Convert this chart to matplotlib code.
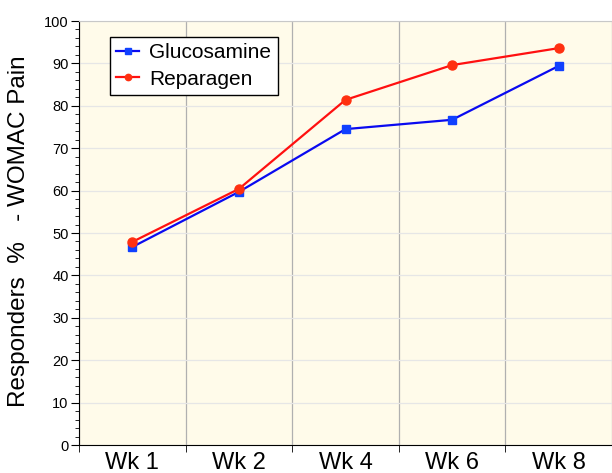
import matplotlib
matplotlib.use("Agg")
import matplotlib.pyplot as plt
from matplotlib.ticker import MultipleLocator, FixedLocator

plt.rcParams['font.family'] = ['Liberation Sans', 'DejaVu Sans']

categories = ["Wk 1", "Wk 2", "Wk 4", "Wk 6", "Wk 8"]
glucosamine = [46.7, 59.7, 74.5, 76.7, 89.4]
reparagen = [47.9, 60.4, 81.4, 89.6, 93.6]

fig = plt.figure(figsize=(6.12, 4.73), dpi=100)
ax = fig.add_axes([79/612, 28/473, 533/612, 424/473])
ax.set_facecolor('#FFFBEA')

x = list(range(len(categories)))
ax.plot(x, glucosamine, color='#0A0AF0', lw=1.6, marker='s', ms=6,
        markerfacecolor='#1040FF', markeredgecolor='#1040FF', label='Glucosamine', zorder=3)
ax.plot(x, reparagen, color='#FF1010', lw=1.6, marker='o', ms=6.5,
        markerfacecolor='#FF3010', markeredgecolor='#FF3010', label='Reparagen', zorder=3)

ax.set_xlim(-0.5, len(categories) - 0.5)
ax.set_ylim(0, 100)
ax.set_xticks(x)
ax.set_xticklabels(categories, fontsize=17)
ax.xaxis.set_minor_locator(FixedLocator([i + 0.5 for i in range(-1, len(categories))]))
ax.tick_params(axis='x', which='major', length=0, pad=5)
ax.tick_params(axis='x', which='minor', length=5, direction='out', color='black')
ax.grid(axis='x', which='minor', color='#B0B0B0', lw=0.9)

ax.yaxis.set_major_locator(MultipleLocator(10))
ax.yaxis.set_minor_locator(MultipleLocator(2))
ax.tick_params(axis='y', which='major', length=6, direction='out', labelsize=10.5, pad=1.5)
ax.tick_params(axis='y', which='minor', length=3, direction='out')
ax.grid(axis='y', which='major', color='#E6E6E6', lw=0.9)
ax.set_axisbelow(True)

ax.spines['left'].set_color('black')
ax.spines['bottom'].set_color('black')
ax.spines['top'].set_color('#C8C8C8')
ax.spines['right'].set_visible(False)

ax.set_ylabel("Responders  %   - WOMAC Pain", fontsize=17.5)
ax.yaxis.set_label_coords(-0.092, 0.505)

leg = ax.legend(loc='upper left', bbox_to_anchor=(0.058, 0.962), borderaxespad=0,
                fontsize=15, frameon=True, fancybox=False, edgecolor='black',
                framealpha=1, handlelength=1.1, handletextpad=0.5, markerscale=0.7,
                borderpad=0.3, labelspacing=0.35)
leg.get_frame().set_linewidth(1.0)

fig.savefig("out.png", dpi=100)
